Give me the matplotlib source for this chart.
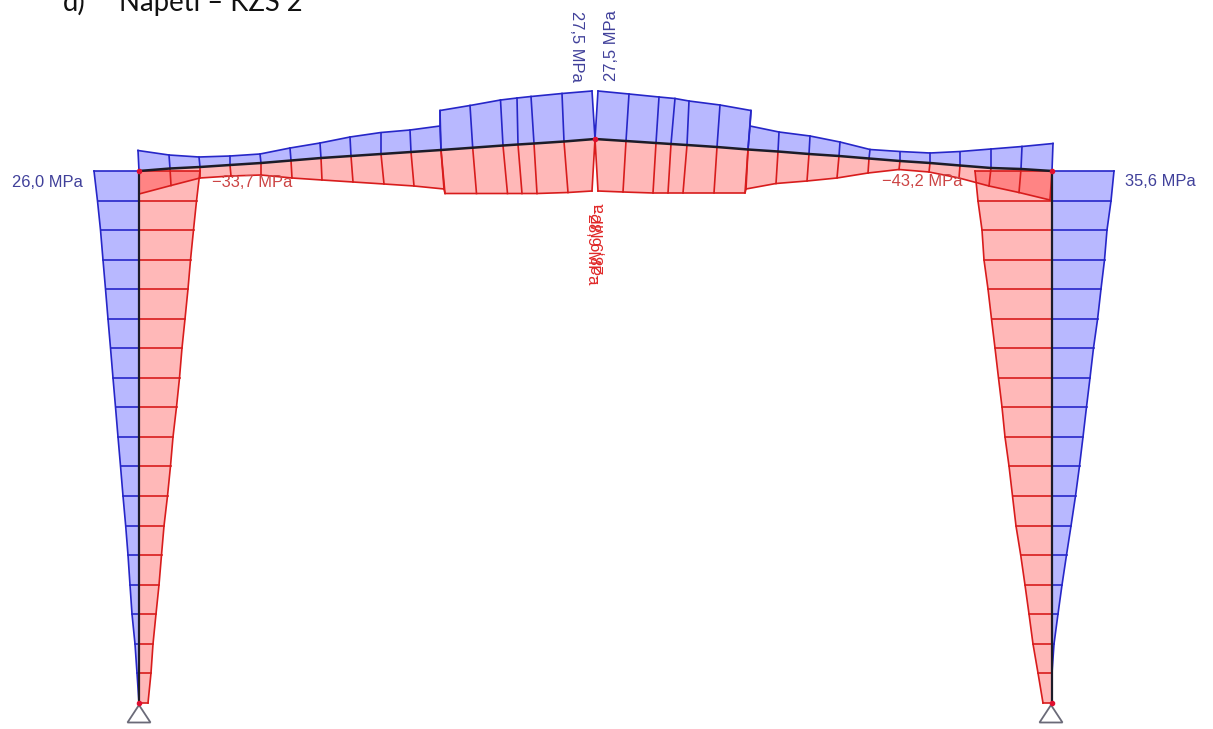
import matplotlib
matplotlib.use("Agg")
import matplotlib.pyplot as plt

# Column stations (vertical position along the columns)
column_y = [171, 201, 230, 260, 289, 319, 348, 378, 407, 437, 466, 496, 526, 555, 585, 614, 644, 673, 703]
left_col_x = 139
right_col_x = 1052
left_col_blue = [94, 97.5, 100.5, 103, 105.5, 108, 110.5, 113, 115.5, 118, 120.5, 123, 125.7, 128, 130, 132, 135, 137, 139]
left_col_red = [200, 196.5, 193.5, 190.5, 188, 185, 182, 179.5, 176.5, 173, 170.5, 167.5, 164, 161.5, 159, 156, 153, 151, 148]
right_col_blue = [1114, 1111, 1107, 1104.5, 1101, 1097.6, 1093.5, 1090, 1086.5, 1083, 1079.5, 1075.5, 1071, 1066.5, 1062, 1058, 1054, 1052, 1052]
right_col_red = [975, 978, 982, 984, 988, 991.5, 995, 998.5, 1002, 1005, 1009, 1012.5, 1016, 1020.7, 1025, 1029, 1033, 1038, 1043]

# Left rafter stations, eaves to ridge (the bending diagram steps at the haunch)
lr_axis_x = [139, 170, 200, 230, 261, 291, 321, 351, 381, 411, 441, 441, 472.7, 503, 518, 534, 564, 595]
lr_axis_y = [171, 168.5, 167, 165, 163, 160.5, 158, 156, 154, 152, 150, 150, 147.7, 145.5, 144.5, 143.5, 141.5, 139]
lr_blue_x = [138, 169, 199, 230, 260, 290, 320, 350, 381, 410, 440, 440, 470, 500.5, 517, 531, 562, 592]
lr_blue_y = [150.5, 155, 157, 156, 154, 148, 143, 137, 132.5, 130, 126, 110.5, 105.5, 100, 98, 96.5, 93.5, 91]
lr_red_x = [139, 171, 200, 231, 261, 292, 322, 353, 384, 414, 444, 445, 476.5, 507.5, 522, 537, 568, 592]
lr_red_y = [194, 185.5, 178, 176, 175, 178, 180, 182, 184, 186, 189, 193.5, 193.5, 193.5, 193.5, 193.5, 192.5, 191]

# Right rafter stations, ridge to eaves
rr_axis_x = [595, 626, 656, 671, 687, 717, 748, 748, 778, 809, 839, 869, 900, 930, 960, 991, 1021, 1052]
rr_axis_y = [139, 141, 143, 144, 145, 147, 149.5, 149.5, 151.5, 154, 156, 158.5, 161, 163, 165.5, 168, 169, 171]
rr_blue_x = [598, 629, 659, 675, 689, 720, 751, 750, 779, 810, 840, 870, 900, 930, 960, 991, 1022, 1053]
rr_blue_y = [91, 94, 97, 98.5, 101, 105, 110.5, 126, 132, 136, 142, 149.5, 151.5, 153, 151.5, 149, 146.5, 143.5]
rr_red_x = [598, 623, 653, 668, 683, 714, 745, 746, 776, 807, 837, 868, 899, 929, 959, 989, 1019, 1050]
rr_red_y = [191, 192, 193, 193, 193, 193, 193, 189, 183.5, 181, 178, 173, 169.5, 172, 178, 186, 192.5, 200]

# Supports: apex x, apex y, half width, base y
support_x = [139, 1051]
support_top = 705
support_half = 11.5
support_base = 722.5

# Labels: text, x, y, rotation, colour
BLUE_TXT = "#40409a"
RED_TXT = "#cc4444"
labels = [
    ("26,0 MPa", 47.5, 182, 0, BLUE_TXT),
    ("\u221233,7 MPa", 252.5, 182, 0, RED_TXT),
    ("\u221243,2 MPa", 922.5, 181, 0, RED_TXT),
    ("35,6 MPa", 1160.5, 181, 0, BLUE_TXT),
    ("27,5 MPa", 577, 46, -90, BLUE_TXT),
    ("27,5 MPa", 612, 46, 90, BLUE_TXT),
    ("\u221228,9 MPa", 592, 244, -90, "#e02828"),
    ("\u221228,9 MPa", 600, 244, 90, "#e02828"),
]

BLUE = "#2626c8"
RED = "#d81c1c"
BLUE_FILL = (0.0, 0.0, 1.0, 0.28)
RED_FILL = (1.0, 0.0, 0.0, 0.28)
LW = 1.2

fig = plt.figure(figsize=(12.13, 7.29), dpi=100)
ax = fig.add_axes([0, 0, 1, 1])
ax.set_xlim(0, 1213)
ax.set_ylim(729, 0)
ax.axis("off")


def column(axis_x, outer, fill, edge):
    xs = [axis_x] + list(outer) + [axis_x]
    ys = [column_y[0]] + list(column_y) + [column_y[-1]]
    ax.fill(xs, ys, facecolor=fill, edgecolor="none", zorder=1)
    ax.plot(outer, column_y, color=edge, lw=LW, zorder=2)
    for x, y in zip(outer, column_y):
        ax.plot([axis_x, x], [y, y], color=edge, lw=LW, zorder=2)


def rafter(ax_x, ax_y, out_x, out_y, fill, edge):
    xs = list(ax_x) + list(out_x)[::-1]
    ys = list(ax_y) + list(out_y)[::-1]
    ax.fill(xs, ys, facecolor=fill, edgecolor="none", zorder=1)
    ax.plot(out_x, out_y, color=edge, lw=LW, zorder=2)
    for a, b, c, d in zip(ax_x, ax_y, out_x, out_y):
        ax.plot([a, c], [b, d], color=edge, lw=LW, zorder=2)


column(left_col_x, left_col_blue, BLUE_FILL, BLUE)
column(left_col_x, left_col_red, RED_FILL, RED)
column(right_col_x, right_col_blue, BLUE_FILL, BLUE)
column(right_col_x, right_col_red, RED_FILL, RED)
rafter(lr_axis_x, lr_axis_y, lr_blue_x, lr_blue_y, BLUE_FILL, BLUE)
rafter(lr_axis_x, lr_axis_y, lr_red_x, lr_red_y, RED_FILL, RED)
rafter(rr_axis_x, rr_axis_y, rr_blue_x, rr_blue_y, BLUE_FILL, BLUE)
rafter(rr_axis_x, rr_axis_y, rr_red_x, rr_red_y, RED_FILL, RED)

# Frame centre line
AXIS_COL = "#1c1c28"
ax.plot(lr_axis_x, lr_axis_y, color=AXIS_COL, lw=1.8, zorder=3)
ax.plot(rr_axis_x, rr_axis_y, color=AXIS_COL, lw=1.8, zorder=3)
ax.plot([left_col_x] * 2, [column_y[0], column_y[-1]], color=AXIS_COL, lw=1.6, zorder=3)
ax.plot([right_col_x] * 2, [column_y[0], column_y[-1]], color=AXIS_COL, lw=1.6, zorder=3)

# Red nodes
ax.plot([left_col_x, right_col_x, left_col_x, right_col_x, lr_axis_x[-1]],
        [column_y[0], column_y[0], column_y[-1], column_y[-1], lr_axis_y[-1]],
        ls="none", marker="o", ms=3, color="#e01030", zorder=4)

# Supports
for sx in support_x:
    ax.plot([sx, sx - support_half, sx + support_half, sx],
            [support_top, support_base, support_base, support_top],
            color="#6a6a78", lw=1.3, zorder=3, solid_joinstyle="miter")

for text, x, y, rot, col in labels:
    ax.text(x, y, text, rotation=rot, color=col, ha="center", va="center",
            family="Liberation Sans", fontsize=11.9, zorder=5)

ax.text(63, 11, "d)", family="Lato", fontsize=19.8, color="#111111", ha="left", va="baseline")
ax.text(119, 11, "Nap\u011bt\u00ed \u2013 KZS 2", family="Lato", fontsize=19.8, color="#111111",
        ha="left", va="baseline")

fig.savefig("out.png", dpi=100, facecolor="white")
